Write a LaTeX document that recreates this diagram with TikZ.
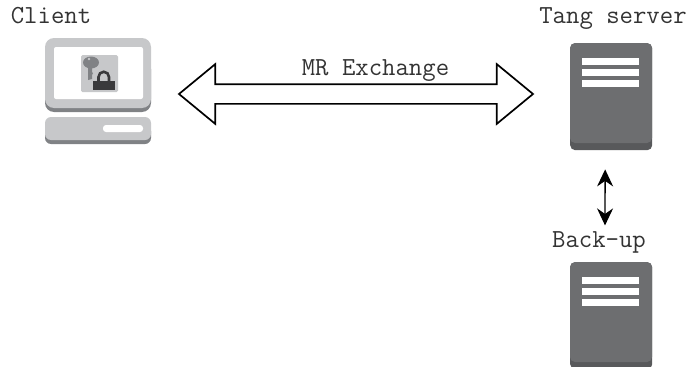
\documentclass[tikz,border=0pt]{standalone}
\usepackage{tikz}
\usetikzlibrary{shapes,arrows,arrows.meta}
\usetikzlibrary{calc}

\definecolor{srvgray}{HTML}{6D6E70}
\definecolor{srvdark}{HTML}{58595B}
\definecolor{pclight}{HTML}{C7C8CA}
\definecolor{pcdark}{HTML}{808285}
\definecolor{lockdark}{HTML}{3A3A3C}

\tikzset{
	label text/.style={font=\ttfamily\fontsize{26}{28}\selectfont, inner sep=0pt, anchor=base, text=black!80},
	srv body/.style={fill=srvdark, rounded corners=5pt, minimum width=82pt, minimum height=107pt, inner sep=0pt, anchor=north west},
	srv bar/.style={fill=white, draw=none},
}

% one server icon, top left corner at (#1,#2), node name #3
\newcommand{\drawserver}[3]{
	\node[srv body] (#3) at (#1,#2) {};
	\fill[srvgray, rounded corners=5pt] (#1,#2) rectangle (#1+82,#2+100);
	\fill[srv bar] (#1+12,#2+15) rectangle (#1+69,#2+22);
	\fill[srv bar] (#1+12,#2+26) rectangle (#1+69,#2+33);
	\fill[srv bar] (#1+12,#2+37) rectangle (#1+69,#2+44);
}

\begin{document}
\begin{tikzpicture}[x=1pt, y=-1pt]
	\useasboundingbox (0,0) rectangle (686,367);

	% client
	\fill[pcdark, rounded corners=9pt] (45,60) rectangle (151,112);
	\fill[pclight, rounded corners=9pt] (45,38) rectangle (151,108);
	\fill[white, rounded corners=2pt] (54,47) rectangle (143,99);
	\fill[pclight, rounded corners=1.5pt] (81,55) rectangle (118,92);
	\fill[pcdark] (91,62.5) ellipse (8pt and 6pt);
	\fill[pcdark] (88,62) -- (92,62) -- (92,72) -- (93,73) -- (92,75) -- (92,79) -- (88,80) -- cycle;
	\fill[pclight] (89,59) circle (1.3pt);
	\draw[lockdark, line width=2.6pt] (98.5,82) -- (98.5,77) arc (180:360:5.25) -- (109,82);
	\fill[lockdark] (93,81) rectangle (115,89.5);
	\fill[pcdark, rounded corners=6pt] (45,125) rectangle (151,144);
	\fill[pclight, rounded corners=6pt] (45,117) rectangle (151,140);
	\fill[white, rounded corners=3pt] (103,125) rectangle (143,132);

	% servers
	\drawserver{570}{43}{tang}
	\drawserver{570}{262}{backupsrv}

	% labels
	\node[label text] (client) at (51,23.5) {Client};
	\node[label text] (tanglabel) at (613,23.5) {Tang server};
	\node[label text] (backup) at (599,247.5) {Back-up};
	\node[label text] (mr) at (375.5,75) {MR Exchange};

	% exchange arrow
	\node[double arrow, draw, line width=1.7pt, inner sep=0pt, inner ysep=9pt, minimum height=354pt,
		minimum width=58pt, double arrow head extend=20pt, double arrow tip angle=79] (exchange) at (356,94) {};

	% back-up link
	\draw[{Stealth[length=17pt,width=16pt]}-{Stealth[length=17pt,width=16pt]}, line width=1.3pt, shorten >=6pt, shorten <=19pt]
		([xshift=-6pt]tang.south) -- ([xshift=6pt]backup.north);
\end{tikzpicture}
\end{document}
